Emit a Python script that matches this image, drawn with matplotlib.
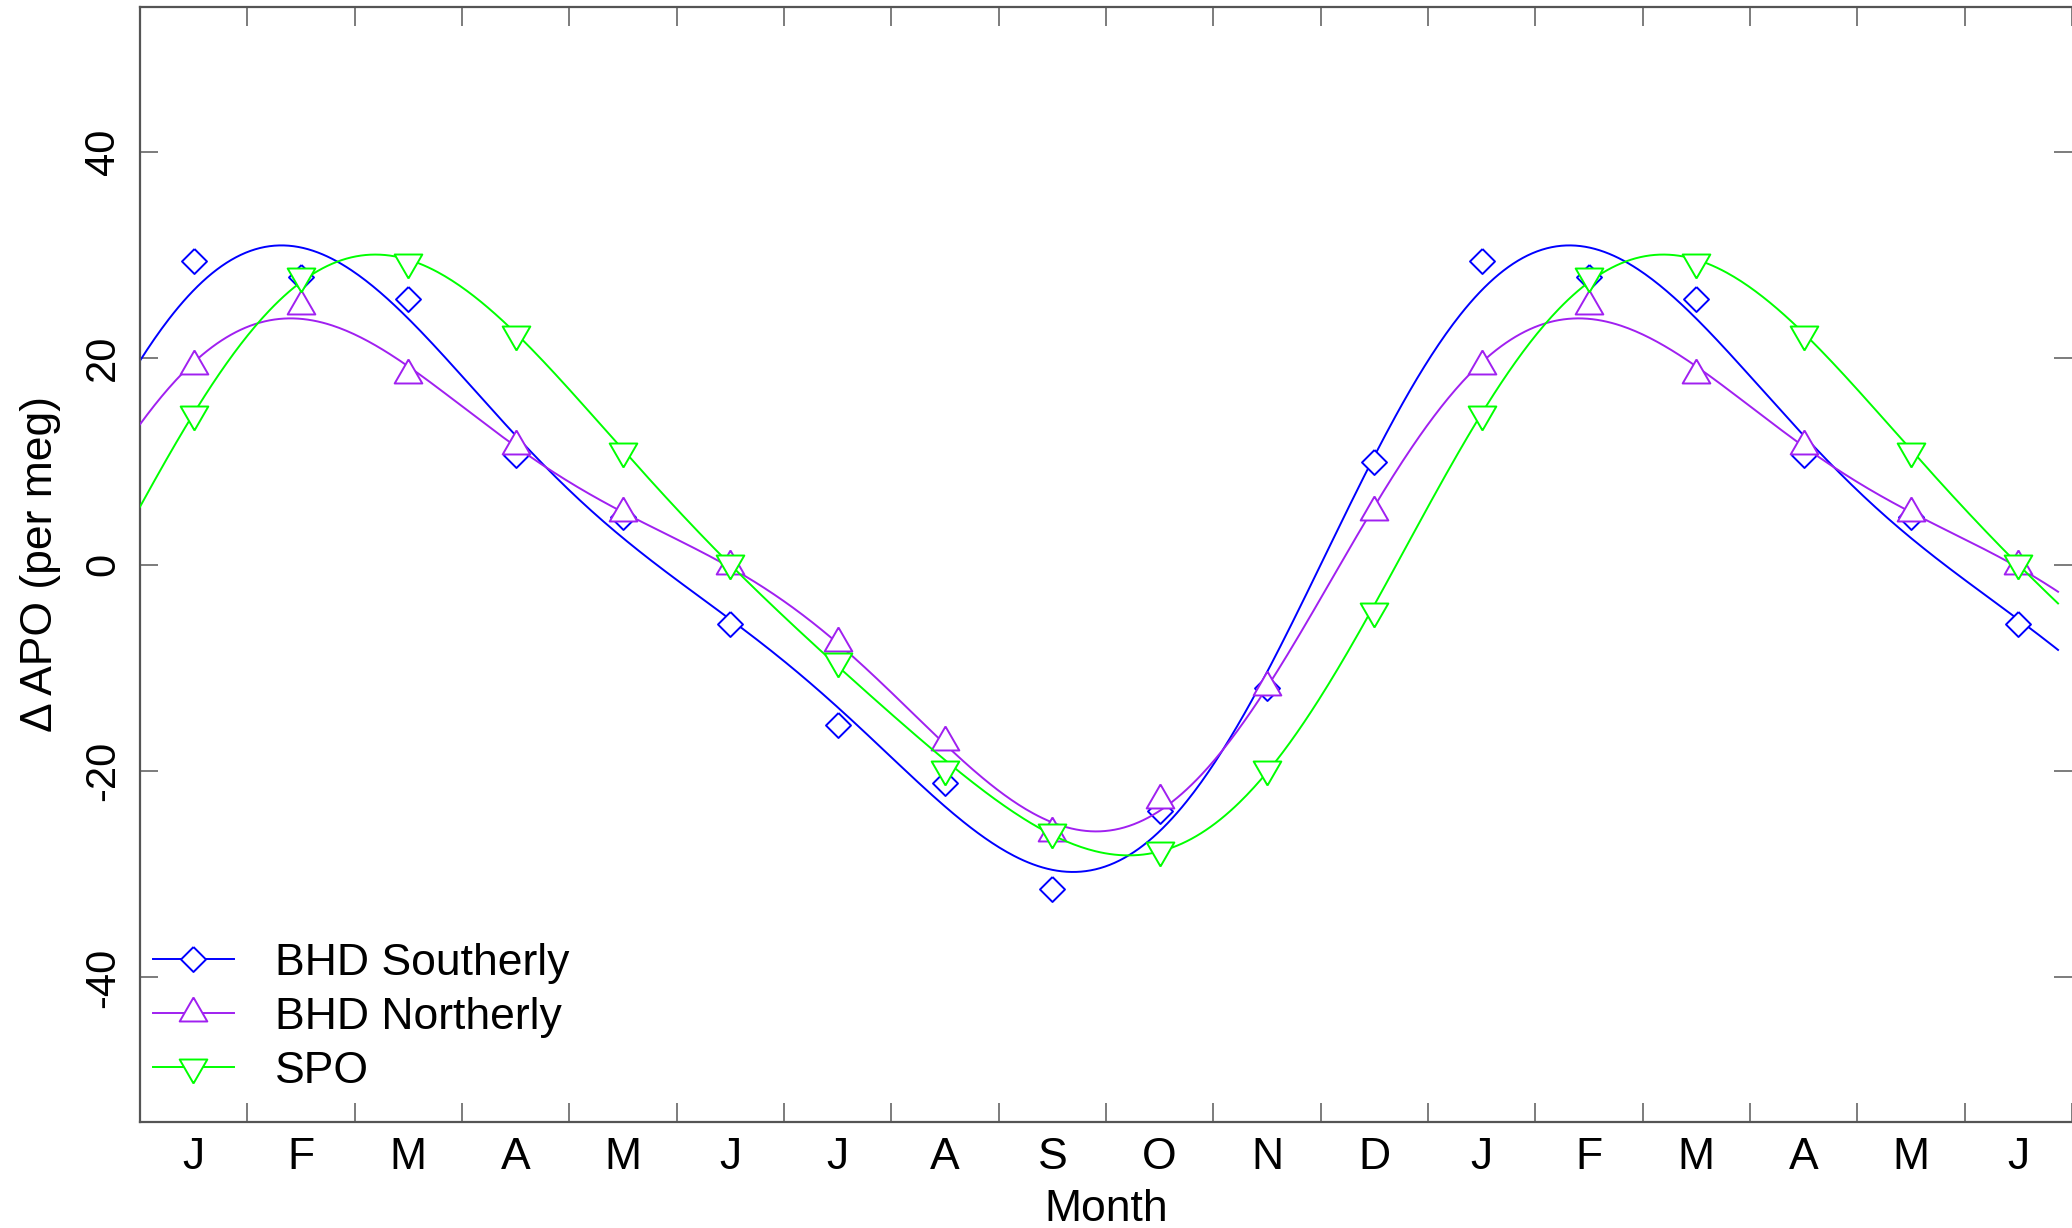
import numpy as np
import matplotlib
matplotlib.use('Agg')
import matplotlib.pyplot as plt
from matplotlib.lines import Line2D

# ---- data ----
month_labels = ['J', 'F', 'M', 'A', 'M', 'J', 'J', 'A', 'S', 'O', 'N', 'D']
bhd_southerly = [29.4, 27.8, 25.7, 10.6, 4.6, -5.8, -15.5, -21.2, -31.4, -23.9, -12.0, 9.9]
bhd_northerly = [19.2, 25.0, 18.4, 11.5, 5.0, -0.1, -7.6, -17.2, -26.0, -22.8, -11.9, 5.1]
spo = [14.6, 27.9, 29.3, 22.3, 11.0, 0.1, -9.3, -19.8, -25.9, -27.7, -19.8, -4.5]
series_names = ['BHD Southerly', 'BHD Northerly', 'SPO']
series_colors = ['#0000FF', '#A020F0', '#00FF00']
n_months_shown = 18
y_ticks = [-40, -20, 0, 20, 40]

plt.rcParams['font.family'] = ['Liberation Sans', 'DejaVu Sans']

W, H = 2072, 1228
fig = plt.figure(figsize=(W / 100, H / 100), dpi=100)
ax_left, ax_bottom, ax_top = 140 / W, (H - 1122) / H, (H - 7) / H
ax = fig.add_axes([ax_left, ax_bottom, 1.0 - ax_left, ax_top - ax_bottom])

x_max = 17.87
ax.set_xlim(0, x_max)
ax.set_ylim(-54, 54)

# markers centred on centroid (like R pch 5, 2, 6)
diamond = [(0, 1), (1, 0), (0, -1), (-1, 0), (0, 1)]
tri_up = [(0, 1), (0.866, -0.5), (-0.866, -0.5), (0, 1)]
tri_down = [(0, -1), (0.866, 0.5), (-0.866, 0.5), (0, -1)]
markers = [diamond, tri_up, tri_down]
msizes = [18, 23, 23]

# harmonic fit (2 harmonics, 12-month period) of each series
t_data = np.arange(12) + 0.5
def design(t):
    w = 2 * np.pi * t / 12.0
    return np.column_stack([np.ones_like(t), np.cos(w), np.sin(w), np.cos(2 * w), np.sin(2 * w)])

t_fine = np.linspace(0, x_max, 800)
all_series = [bhd_southerly, bhd_northerly, spo]
handles = []
for i, (vals, name, col, mk, ms) in enumerate(zip(all_series, series_names, series_colors, markers, msizes)):
    vals = np.asarray(vals, dtype=float)
    coef, *_ = np.linalg.lstsq(design(t_data), vals, rcond=None)
    ax.plot(t_fine, design(t_fine) @ coef, color=col, lw=1.4, zorder=2 + i * 2)
    xs = np.arange(n_months_shown) + 0.5
    ys = np.array([vals[k % 12] for k in range(n_months_shown)])
    ax.plot(xs, ys, linestyle='none', marker=mk, ms=ms, mfc='white', mec=col, mew=1.4,
            zorder=3 + i * 2, clip_on=True)
    handles.append(Line2D([], [], color=col, lw=1.4, marker=mk, ms=ms, mfc='white', mec=col, mew=1.4))

# axes styling
for s in ax.spines.values():
    s.set_color('#555555')
    s.set_linewidth(1.6)
ax.spines['right'].set_visible(False)

ax.set_xticks(np.arange(0, n_months_shown + 1))
ax.set_xticklabels([])
ax.set_xticks(np.arange(n_months_shown) + 0.5, minor=True)
ax.set_xticklabels([month_labels[k % 12] for k in range(n_months_shown)], minor=True)
ax.tick_params(axis='x', which='major', direction='in', length=14, width=1.2, color='#666666',
               top=True, bottom=True)
ax.tick_params(axis='x', which='minor', length=0, labelsize=32, pad=11)

ax.set_yticks(y_ticks)
ax.set_yticklabels([str(v) for v in y_ticks])
ax.tick_params(axis='y', direction='in', length=13, width=1.2, color='#666666',
               left=True, right=True, labelsize=30, pad=12, labelrotation=90)
for lab in ax.get_yticklabels():
    lab.set_va('center')

ax.set_xlabel('Month', fontsize=32, labelpad=8)
ax.set_ylabel('\u0394 APO (per meg)', fontsize=32, labelpad=16)

leg = ax.legend(handles, series_names, loc='upper left', frameon=False, fontsize=32,
                bbox_to_anchor=(153 / W, (H - 943) / H), bbox_transform=fig.transFigure,
                borderaxespad=0, borderpad=0, handlelength=1.82, handletextpad=0.92,
                labelspacing=0.29)

fig.savefig('out.png', dpi=100)
